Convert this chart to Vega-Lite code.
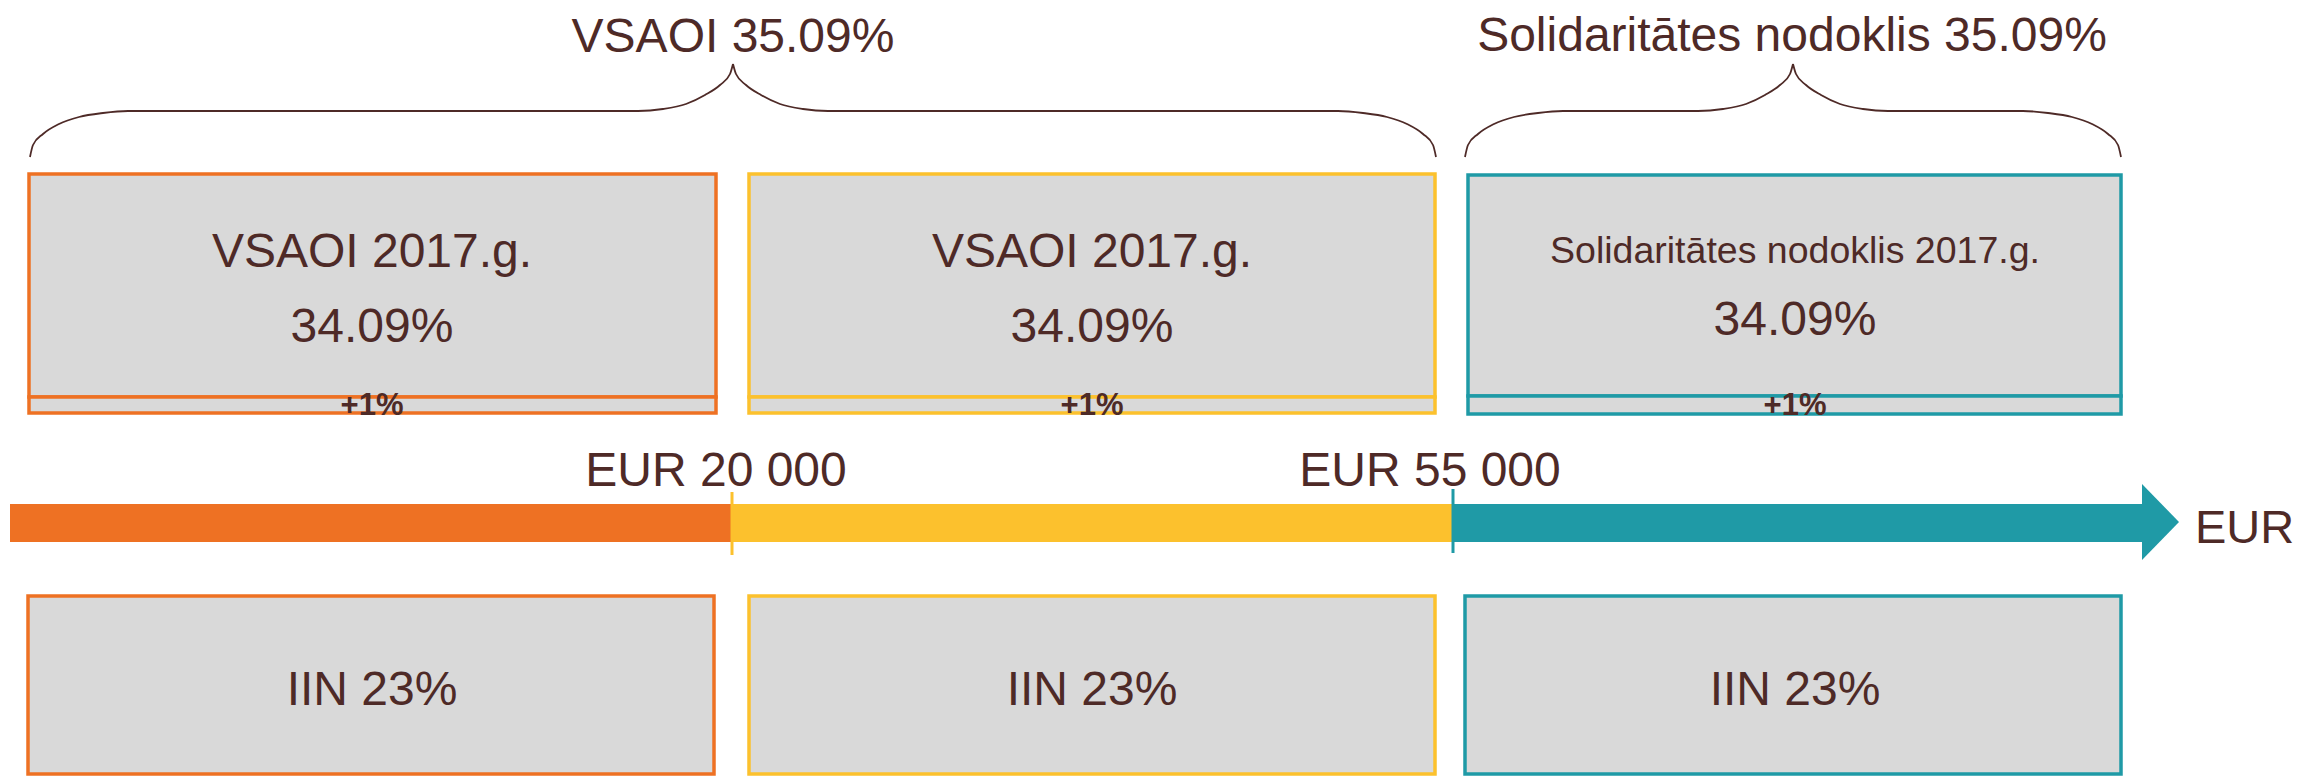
{
  "$schema": "https://vega.github.io/schema/vega-lite/v6.json",
  "width": 2298,
  "height": 776,
  "autosize": {"type": "fit", "contains": "padding"},
  "padding": 0,
  "background": "white",
  "config": {"view": {"stroke": null}, "text": {"font": "Liberation Sans", "color": "#4E2A27", "baseline": "alphabetic"}},
  "datasets": {
    "braces": [
      {"part": "b1L", "i": 0, "x": 30, "y": 157}, {"part": "b1L", "i": 1, "x": 33, "y": 145}, {"part": "b1L", "i": 2, "x": 43, "y": 134}, {"part": "b1L", "i": 3, "x": 59, "y": 124}, {"part": "b1L", "i": 4, "x": 79, "y": 117}, {"part": "b1L", "i": 5, "x": 103, "y": 113}, {"part": "b1L", "i": 6, "x": 128, "y": 111}, {"part": "b1L", "i": 7, "x": 638, "y": 111}, {"part": "b1L", "i": 8, "x": 663, "y": 109}, {"part": "b1L", "i": 9, "x": 686, "y": 104}, {"part": "b1L", "i": 10, "x": 705, "y": 95}, {"part": "b1L", "i": 11, "x": 720, "y": 85}, {"part": "b1L", "i": 12, "x": 730, "y": 74}, {"part": "b1L", "i": 13, "x": 733, "y": 64},
      {"part": "b1R", "i": 0, "x": 733, "y": 64}, {"part": "b1R", "i": 1, "x": 736, "y": 74}, {"part": "b1R", "i": 2, "x": 746, "y": 85}, {"part": "b1R", "i": 3, "x": 761, "y": 95}, {"part": "b1R", "i": 4, "x": 780, "y": 104}, {"part": "b1R", "i": 5, "x": 803, "y": 109}, {"part": "b1R", "i": 6, "x": 828, "y": 111}, {"part": "b1R", "i": 7, "x": 1338, "y": 111}, {"part": "b1R", "i": 8, "x": 1363, "y": 113}, {"part": "b1R", "i": 9, "x": 1387, "y": 117}, {"part": "b1R", "i": 10, "x": 1407, "y": 124}, {"part": "b1R", "i": 11, "x": 1423, "y": 134}, {"part": "b1R", "i": 12, "x": 1433, "y": 145}, {"part": "b1R", "i": 13, "x": 1436, "y": 157},
      {"part": "b2L", "i": 0, "x": 1465, "y": 157}, {"part": "b2L", "i": 1, "x": 1468, "y": 145}, {"part": "b2L", "i": 2, "x": 1478, "y": 134}, {"part": "b2L", "i": 3, "x": 1494, "y": 124}, {"part": "b2L", "i": 4, "x": 1514, "y": 117}, {"part": "b2L", "i": 5, "x": 1538, "y": 113}, {"part": "b2L", "i": 6, "x": 1563, "y": 111}, {"part": "b2L", "i": 7, "x": 1698, "y": 111}, {"part": "b2L", "i": 8, "x": 1723, "y": 109}, {"part": "b2L", "i": 9, "x": 1746, "y": 104}, {"part": "b2L", "i": 10, "x": 1765, "y": 95}, {"part": "b2L", "i": 11, "x": 1780, "y": 85}, {"part": "b2L", "i": 12, "x": 1790, "y": 74}, {"part": "b2L", "i": 13, "x": 1793, "y": 64},
      {"part": "b2R", "i": 0, "x": 1793, "y": 64}, {"part": "b2R", "i": 1, "x": 1796, "y": 74}, {"part": "b2R", "i": 2, "x": 1806, "y": 85}, {"part": "b2R", "i": 3, "x": 1821, "y": 95}, {"part": "b2R", "i": 4, "x": 1840, "y": 104}, {"part": "b2R", "i": 5, "x": 1863, "y": 109}, {"part": "b2R", "i": 6, "x": 1888, "y": 111}, {"part": "b2R", "i": 7, "x": 2023, "y": 111}, {"part": "b2R", "i": 8, "x": 2048, "y": 113}, {"part": "b2R", "i": 9, "x": 2072, "y": 117}, {"part": "b2R", "i": 10, "x": 2092, "y": 124}, {"part": "b2R", "i": 11, "x": 2108, "y": 134}, {"part": "b2R", "i": 12, "x": 2118, "y": 145}, {"part": "b2R", "i": 13, "x": 2121, "y": 157}
    ],
    "boxes": [
      {"seg": "a", "x": 29, "x2": 716, "y": 174, "y2": 397},
      {"seg": "b", "x": 749, "x2": 1435, "y": 174, "y2": 397},
      {"seg": "c", "x": 1468, "x2": 2121, "y": 175, "y2": 396},
      {"seg": "a", "x": 29, "x2": 716, "y": 397, "y2": 413},
      {"seg": "b", "x": 749, "x2": 1435, "y": 397, "y2": 413},
      {"seg": "c", "x": 1468, "x2": 2121, "y": 396, "y2": 414},
      {"seg": "a", "x": 28, "x2": 714, "y": 596, "y2": 774},
      {"seg": "b", "x": 749, "x2": 1435, "y": 596, "y2": 774},
      {"seg": "c", "x": 1465, "x2": 2121, "y": 596, "y2": 774}
    ],
    "bar": [
      {"seg": "a", "x": 10, "x2": 732, "y": 504, "y2": 542},
      {"seg": "b", "x": 732, "x2": 1453, "y": 504, "y2": 542},
      {"seg": "c", "x": 1453, "x2": 2142, "y": 504, "y2": 542}
    ],
    "ticks": [
      {"seg": "b", "x": 732, "y": 492, "y2": 555},
      {"seg": "c", "x": 1453, "y": 489, "y2": 553}
    ],
    "arrow": [{"seg": "c", "x": 2142, "y": 522}],
    "big": [
      {"x": 733, "y": 52, "label": "VSAOI 35.09%"},
      {"x": 1792, "y": 51, "label": "Solidaritātes nodoklis 35.09%"},
      {"x": 372, "y": 267, "label": "VSAOI 2017.g."},
      {"x": 1092, "y": 267, "label": "VSAOI 2017.g."},
      {"x": 372, "y": 342, "label": "34.09%"},
      {"x": 1092, "y": 342, "label": "34.09%"},
      {"x": 1795, "y": 335, "label": "34.09%"},
      {"x": 372, "y": 705, "label": "IIN 23%"},
      {"x": 1092, "y": 705, "label": "IIN 23%"},
      {"x": 1795, "y": 705, "label": "IIN 23%"},
      {"x": 716, "y": 486, "label": "EUR 20 000"},
      {"x": 1430, "y": 486, "label": "EUR 55 000"}
    ],
    "mid": [{"x": 1795, "y": 263, "label": "Solidaritātes nodoklis 2017.g."}],
    "plus": [
      {"x": 372, "y": 415, "label": "+1%"},
      {"x": 1092, "y": 415, "label": "+1%"},
      {"x": 1795, "y": 415, "label": "+1%"}
    ],
    "unit": [{"x": 2195, "y": 543, "label": "EUR"}]
  },
  "layer": [
    {
      "data": {"name": "boxes"},
      "mark": {"type": "rect", "fill": "#D9D9D9", "strokeWidth": 3.5},
      "encoding": {
        "x": {"field": "x", "type": "quantitative", "scale": {"domain": [0, 2298], "nice": false, "zero": false}, "axis": null},
        "x2": {"field": "x2"},
        "y": {"field": "y", "type": "quantitative", "scale": {"domain": [0, 776], "reverse": true, "nice": false, "zero": false}, "axis": null},
        "y2": {"field": "y2"},
        "stroke": {"field": "seg", "type": "nominal", "scale": {"domain": ["a", "b", "c"], "range": ["#EE7123", "#FCC12D", "#1F9AA6"]}, "legend": null}
      }
    },
    {
      "data": {"name": "bar"},
      "mark": {"type": "rect"},
      "encoding": {
        "x": {"field": "x", "type": "quantitative"},
        "x2": {"field": "x2"},
        "y": {"field": "y", "type": "quantitative"},
        "y2": {"field": "y2"},
        "fill": {"field": "seg", "type": "nominal", "scale": {"domain": ["a", "b", "c"], "range": ["#EE7123", "#FCC12D", "#1F9AA6"]}, "legend": null}
      }
    },
    {
      "data": {"name": "arrow"},
      "mark": {"type": "point", "shape": "M 0 -1 L 0.974 0 L 0 1 Z", "filled": true, "size": 5776, "opacity": 1, "strokeWidth": 0},
      "encoding": {
        "x": {"field": "x", "type": "quantitative"},
        "y": {"field": "y", "type": "quantitative"},
        "fill": {"field": "seg", "type": "nominal", "scale": {"domain": ["a", "b", "c"], "range": ["#EE7123", "#FCC12D", "#1F9AA6"]}, "legend": null}
      }
    },
    {
      "data": {"name": "ticks"},
      "mark": {"type": "rule", "strokeWidth": 3},
      "encoding": {
        "x": {"field": "x", "type": "quantitative"},
        "y": {"field": "y", "type": "quantitative"},
        "y2": {"field": "y2"},
        "stroke": {"field": "seg", "type": "nominal", "scale": {"domain": ["a", "b", "c"], "range": ["#EE7123", "#FCC12D", "#1F9AA6"]}, "legend": null}
      }
    },
    {
      "data": {"name": "braces"},
      "mark": {"type": "line", "interpolate": "monotone", "color": "#4E2A27", "strokeWidth": 1.8},
      "encoding": {
        "x": {"field": "x", "type": "quantitative"},
        "y": {"field": "y", "type": "quantitative"},
        "detail": {"field": "part", "type": "nominal"},
        "order": {"field": "i", "type": "quantitative"}
      }
    },
    {
      "data": {"name": "big"},
      "mark": {"type": "text", "fontSize": 48, "align": "center"},
      "encoding": {
        "x": {"field": "x", "type": "quantitative"},
        "y": {"field": "y", "type": "quantitative"},
        "text": {"field": "label"}
      }
    },
    {
      "data": {"name": "mid"},
      "mark": {"type": "text", "fontSize": 37.5, "align": "center"},
      "encoding": {
        "x": {"field": "x", "type": "quantitative"},
        "y": {"field": "y", "type": "quantitative"},
        "text": {"field": "label"}
      }
    },
    {
      "data": {"name": "plus"},
      "mark": {"type": "text", "fontSize": 31, "fontWeight": "bold", "align": "center"},
      "encoding": {
        "x": {"field": "x", "type": "quantitative"},
        "y": {"field": "y", "type": "quantitative"},
        "text": {"field": "label"}
      }
    },
    {
      "data": {"name": "unit"},
      "mark": {"type": "text", "fontSize": 47, "align": "left"},
      "encoding": {
        "x": {"field": "x", "type": "quantitative"},
        "y": {"field": "y", "type": "quantitative"},
        "text": {"field": "label"}
      }
    }
  ]
}
